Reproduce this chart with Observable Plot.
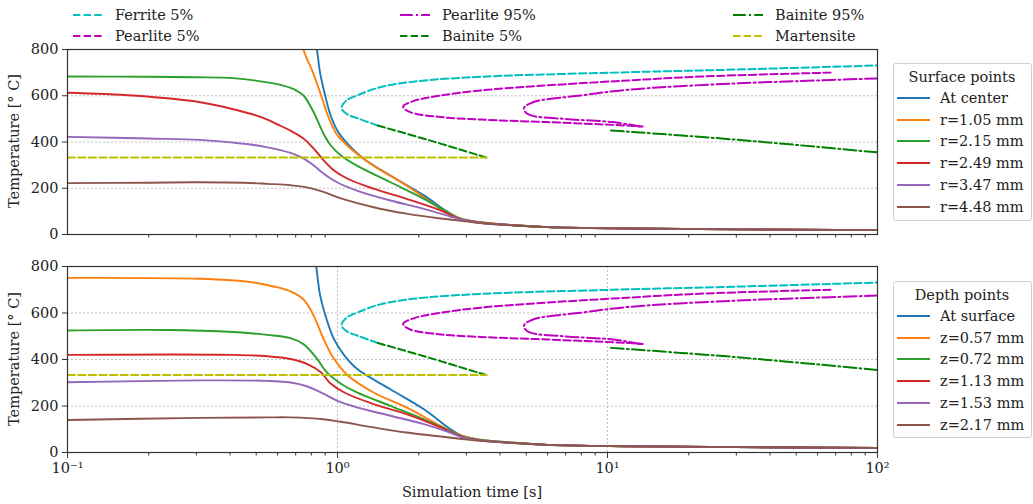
<!DOCTYPE html>
<html><head><meta charset="utf-8">
<script src="https://cdn.jsdelivr.net/npm/d3@7"></script>
<script src="https://cdn.jsdelivr.net/npm/@observablehq/plot@0.6"></script>
<style>
body{margin:0;background:#fff;font-family:"DejaVu Serif",serif;color:#222;}
#root{position:relative;width:1033px;height:504px;overflow:hidden;background:#fff;}
.abs{position:absolute;white-space:nowrap;}
.leg{position:absolute;border:1px solid #d0d0d0;border-radius:3px;background:#fff;}
</style></head><body><div id="root"></div>
<script>
// ---- transformation (CCT) curves: [time s, temperature °C] ----
const ferrite5 = [[1.41,471],[1.19,502],[1.08,522],[1.035,548],[1.08,580],[1.19,603],[1.44,637],[1.91,661],[3.39,682],[10.5,700],[29.3,713],[100,731]];
const pearlite5 = [[67,700],[22,683],[11.9,666],[6,645],[3.39,623],[2.41,601],[1.91,577],[1.75,553],[1.85,530],[2.41,508],[3.39,497],[6,486],[11.9,471],[13.5,467]];
const pearlite95 = [[100,675],[50,663],[29.3,653],[11.9,626],[7.94,601],[5.3,572],[4.9,545],[5.1,519],[6.9,500],[10.5,486],[13.2,467]];
const bainite5 = [[1.41,471],[2.21,406],[3.55,333]];
const bainite95 = [[10.3,450],[29.3,411],[100,355]];
const martensite = [[0.1,333],[3.57,333]];

// ---- surface points (top panel) ----
const sCenter = [[0.8,930],[0.84,796],[0.861,702],[0.9,601],[0.94,520],[0.996,452],[1.09,392],[1.25,328],[1.57,255],[2.09,169],[2.54,100],[2.84,70],[3.39,53],[4.5,40],[6,32],[12,26],[30,22],[100,19]];
const sR105 = [[0.71,930],[0.75,796],[0.81,702],[0.87,601],[0.93,502],[0.996,432],[1.12,371],[1.36,298],[1.8,212],[2.41,112],[2.84,71],[3.39,53],[4.5,40],[6,32],[12,26],[30,22],[100,19]];
const sR215 = [[0.1,683],[0.2,682],[0.3,680],[0.41,676],[0.55,658],[0.62,646],[0.67,634],[0.71,620],[0.75,600],[0.815,530],[0.88,445],[0.94,388],[1.03,342],[1.18,298],[1.57,226],[2.09,154],[2.61,90],[2.84,69],[3.39,52],[4.5,40],[6,32],[12,26],[30,22],[100,19]];
const sR249 = [[0.1,613],[0.175,601],[0.31,572],[0.476,522],[0.55,497],[0.6,476],[0.67,449],[0.75,414],[0.815,372],[0.887,322],[0.968,278],[1.09,241],[1.36,198],[1.8,154],[2.41,104],[2.84,67],[3.39,51],[4.5,40],[6,32],[12,26],[30,22],[100,19]];
const sR347 = [[0.1,422],[0.2,415],[0.31,409],[0.476,389],[0.55,377],[0.67,353],[0.75,328],[0.815,299],[0.887,264],[0.996,226],[1.18,190],[1.57,147],[2.09,111],[2.61,78],[2.84,66],[3.39,50],[4.5,40],[6,32],[12,26],[30,22],[100,19]];
const sR448 = [[0.1,222],[0.2,224],[0.31,226],[0.45,224],[0.55,219],[0.67,213],[0.77,204],[0.887,184],[1.03,156],[1.36,118],[1.8,90],[2.41,69],[2.84,60],[3.39,49],[4.5,39],[6,32],[12,26],[30,22],[100,19]];

// ---- depth points (bottom panel) ----
const dSurface = [[0.8,930],[0.835,796],[0.861,680],[0.91,575],[0.968,490],[1.06,418],[1.18,360],[1.57,272],[2.09,186],[2.61,102],[2.9,71],[3.39,55],[4.5,42],[6,33],[12,27],[30,23],[100,20]];
const dZ057 = [[0.1,751],[0.31,747],[0.476,733],[0.58,714],[0.67,693],[0.75,657],[0.815,590],[0.887,490],[0.968,405],[1.09,332],[1.36,258],[1.8,194],[2.41,115],[2.9,71],[3.39,54],[4.5,42],[6,33],[12,27],[30,23],[100,20]];
const dZ072 = [[0.1,525],[0.234,527],[0.41,518],[0.55,506],[0.67,492],[0.75,465],[0.84,403],[0.91,347],[1.03,296],[1.18,259],[1.57,201],[2.09,143],[2.61,93],[2.9,69],[3.39,53],[4.5,42],[6,33],[12,27],[30,23],[100,20]];
const dZ113 = [[0.1,420],[0.41,420],[0.55,414],[0.67,402],[0.77,381],[0.87,344],[0.94,298],[1.06,258],[1.36,208],[1.8,165],[2.41,108],[2.9,67],[3.39,52],[4.5,41],[6,33],[12,27],[30,23],[100,20]];
const dZ153 = [[0.1,302],[0.31,310],[0.55,308],[0.67,301],[0.77,285],[0.887,253],[0.996,223],[1.18,194],[1.57,158],[2.09,122],[2.61,86],[2.9,65],[3.39,51],[4.5,41],[6,33],[12,27],[30,23],[100,20]];
const dZ217 = [[0.1,140],[0.31,149],[0.55,151],[0.67,151],[0.887,143],[1.03,132],[1.36,108],[1.8,86],[2.41,69],[2.9,58],[3.39,50],[4.5,41],[6,33],[12,27],[30,23],[100,20]];

const surfaceLabels = ["At center","r=1.05 mm","r=2.15 mm","r=2.49 mm","r=3.47 mm","r=4.48 mm"];
const depthLabels = ["At surface","z=0.57 mm","z=0.72 mm","z=1.13 mm","z=1.53 mm","z=2.17 mm"];
const phaseLabels = ["Ferrite 5%","Pearlite 5%","Pearlite 95%","Bainite 5%","Bainite 95%","Martensite"];
const yTicks = [0,200,400,600,800];
const xMajor = [0.1,1,10,100];
const xMajorLabels = ["10⁻¹","10⁰","10¹","10²"];
const xMinor = [2,3,4,5,6,7,8,9].flatMap(m => [0.1*m, m, 10*m]);

const tab = ["#1f77b4","#ff7f0e","#2ca02c","#d62728","#9467bd","#8c564b"];
const DASH = "7.4,3.2", DASHDOT = "12.8,3.2,2,3.2";
const phases = [
  {data: ferrite5, color:"#00bfbf", dash:DASH},
  {data: pearlite5, color:"#bf00bf", dash:DASH},
  {data: pearlite95, color:"#bf00bf", dash:DASHDOT},
  {data: bainite5, color:"#008000", dash:DASH},
  {data: bainite95, color:"#008000", dash:DASHDOT},
  {data: martensite, color:"#bfbf00", dash:DASH}
];
const FS = 14.5;

function panel(cooling, bottom) {
  const marks = [
    Plot.ruleY([200,400,600], {stroke:"#b0b0b0", strokeWidth:0.8, strokeDasharray:"2,2"})
  ];
  if (bottom) marks.push(Plot.ruleX([1,10], {stroke:"#b0b0b0", strokeWidth:0.8, strokeDasharray:"2,2"}));
  cooling.forEach((c,i) => marks.push(Plot.line(c, {x:d=>d[0], y:d=>d[1], stroke:tab[i], strokeWidth:1.9, curve:"catmull-rom", clip:true})));
  phases.forEach(p => marks.push(Plot.line(p.data, {x:d=>d[0], y:d=>d[1], stroke:p.color, strokeWidth:2, strokeDasharray:p.dash, curve:"catmull-rom", clip:true})));
  marks.push(Plot.frame({stroke:"#333", strokeWidth:1.2}));
  marks.push(Plot.axisY({ticks:yTicks, tickSize:5, tickPadding:4, label:null, stroke:"#333"}));
  marks.push(Plot.axisX({ticks:xMinor, tickSize:3.5, tickFormat:()=>"", label:null, stroke:"#333"}));
  if (bottom) marks.push(Plot.axisX({ticks:xMajor, tickSize:6, tickPadding:4, tickFormat:(d)=>xMajorLabels[xMajor.indexOf(d)], label:null, stroke:"#333"}));
  return Plot.plot({
    width:1033, height: bottom ? 254 : 250,
    marginLeft:67, marginRight:156,
    marginTop: bottom ? 16 : 49, marginBottom: bottom ? 52 : 16,
    x:{type:"log", domain:[0.1,100]},
    y:{domain:[0,800]},
    style:{fontFamily:"DejaVu Serif", fontSize:FS+"px", color:"#222", background:"transparent", overflow:"visible"},
    marks
  });
}

const root = document.getElementById("root");
const topPlot = panel([sCenter,sR105,sR215,sR249,sR347,sR448], false);
topPlot.style.position="absolute"; topPlot.style.left="0px"; topPlot.style.top="0px";
const botPlot = panel([dSurface,dZ057,dZ072,dZ113,dZ153,dZ217], true);
botPlot.style.position="absolute"; botPlot.style.left="0px"; botPlot.style.top="250px";
root.appendChild(topPlot); root.appendChild(botPlot);

function addText(txt, x, y, opts={}) {
  const d = document.createElement("div");
  d.className="abs"; d.textContent = txt;
  d.style.left = x+"px"; d.style.top = y+"px";
  d.style.fontSize = (opts.size||FS)+"px";
  d.style.lineHeight = "1";
  d.style.transform = opts.transform || "translate(0,-50%)";
  d.style.transformOrigin = "center";
  root.appendChild(d); return d;
}
function swatch(x, y, color, dash, w) {
  const s = document.createElementNS("http://www.w3.org/2000/svg","svg");
  s.setAttribute("width", w+4); s.setAttribute("height", 8);
  s.style.position="absolute"; s.style.left=(x-2)+"px"; s.style.top=(y-4)+"px"; s.style.overflow="visible";
  const l = document.createElementNS("http://www.w3.org/2000/svg","line");
  l.setAttribute("x1",2); l.setAttribute("x2",w+2); l.setAttribute("y1",4); l.setAttribute("y2",4);
  l.setAttribute("stroke",color); l.setAttribute("stroke-width",2);
  if (dash) l.setAttribute("stroke-dasharray", dash);
  root.appendChild(s); s.appendChild(l);
}

// top legend (column-major order)
const colX = [73, 400, 733], rowY = [15, 36];
phases.forEach((p,i) => {
  const c = Math.floor(i/2), r = i%2;
  swatch(colX[c], rowY[r], p.color, p.dash, 30);
  addText(phaseLabels[i], colX[c]+42, rowY[r]);
});

// right legends
function boxLegend(title, labels, y0, height) {
  const b = document.createElement("div"); b.className="leg";
  b.style.left="893px"; b.style.top=y0+"px"; b.style.width="137px"; b.style.height=height+"px";
  root.appendChild(b);
  addText(title, 962, y0+14, {transform:"translate(-50%,-50%)"});
  labels.forEach((t,i) => {
    const y = y0 + 35 + i*21.7;
    swatch(897, y, tab[i], null, 33);
    addText(t, 940, y);
  });
}
boxLegend("Surface points", surfaceLabels, 63, 156);
boxLegend("Depth points", depthLabels, 281, 155);

// axis titles
addText("Temperature [° C]", 14, 141, {transform:"translate(-50%,-50%) rotate(-90deg)"});
addText("Temperature [° C]", 14, 359, {transform:"translate(-50%,-50%) rotate(-90deg)"});
addText("Simulation time [s]", 472, 492, {transform:"translate(-50%,-50%)"});
</script></body></html>
